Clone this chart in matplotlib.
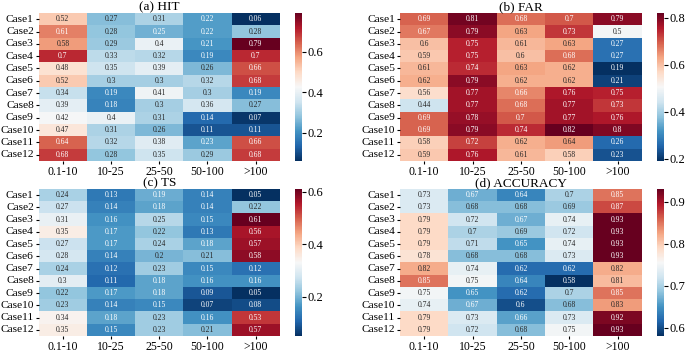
import numpy as np
import matplotlib
matplotlib.use('Agg')
import matplotlib.pyplot as plt
import seaborn as sns

plt.rcParams['font.family'] = ['Liberation Serif', 'DejaVu Serif']

cases = ['Case' + str(i) for i in range(1, 13)]
bins = ['0.1-10', '10-25', '25-50', '50-100', '>100']

hit = [[0.52, 0.27, 0.31, 0.22, 0.06],
       [0.61, 0.28, 0.25, 0.22, 0.28],
       [0.58, 0.29, 0.4, 0.21, 0.79],
       [0.7, 0.33, 0.32, 0.19, 0.7],
       [0.48, 0.35, 0.39, 0.26, 0.66],
       [0.52, 0.3, 0.3, 0.32, 0.68],
       [0.34, 0.19, 0.41, 0.3, 0.19],
       [0.39, 0.18, 0.3, 0.36, 0.27],
       [0.42, 0.4, 0.31, 0.14, 0.07],
       [0.47, 0.31, 0.26, 0.11, 0.11],
       [0.64, 0.32, 0.38, 0.23, 0.66],
       [0.68, 0.28, 0.35, 0.29, 0.68]]

far = [[0.69, 0.81, 0.68, 0.7, 0.79],
       [0.67, 0.79, 0.63, 0.73, 0.5],
       [0.6, 0.75, 0.61, 0.63, 0.27],
       [0.59, 0.75, 0.6, 0.68, 0.27],
       [0.61, 0.74, 0.63, 0.62, 0.19],
       [0.62, 0.79, 0.62, 0.62, 0.21],
       [0.56, 0.77, 0.66, 0.76, 0.75],
       [0.44, 0.77, 0.68, 0.77, 0.73],
       [0.69, 0.78, 0.7, 0.77, 0.76],
       [0.69, 0.79, 0.74, 0.82, 0.8],
       [0.58, 0.72, 0.62, 0.64, 0.26],
       [0.59, 0.76, 0.61, 0.58, 0.23]]

ts = [[0.24, 0.13, 0.19, 0.14, 0.05],
      [0.27, 0.14, 0.18, 0.14, 0.22],
      [0.31, 0.16, 0.25, 0.15, 0.61],
      [0.35, 0.17, 0.22, 0.13, 0.56],
      [0.27, 0.17, 0.24, 0.18, 0.57],
      [0.28, 0.14, 0.2, 0.21, 0.58],
      [0.24, 0.12, 0.23, 0.15, 0.12],
      [0.3, 0.11, 0.18, 0.16, 0.16],
      [0.22, 0.17, 0.18, 0.09, 0.05],
      [0.23, 0.14, 0.15, 0.07, 0.08],
      [0.34, 0.18, 0.23, 0.16, 0.53],
      [0.35, 0.15, 0.23, 0.21, 0.57]]

acc = [[0.73, 0.67, 0.64, 0.7, 0.85],
       [0.73, 0.68, 0.68, 0.69, 0.87],
       [0.79, 0.72, 0.67, 0.74, 0.93],
       [0.79, 0.7, 0.69, 0.72, 0.93],
       [0.79, 0.71, 0.65, 0.74, 0.93],
       [0.78, 0.68, 0.68, 0.73, 0.93],
       [0.82, 0.74, 0.62, 0.62, 0.82],
       [0.85, 0.75, 0.64, 0.58, 0.81],
       [0.75, 0.65, 0.62, 0.7, 0.85],
       [0.74, 0.67, 0.6, 0.68, 0.83],
       [0.79, 0.73, 0.66, 0.73, 0.92],
       [0.79, 0.72, 0.68, 0.75, 0.93]]

titles = ['(a) HIT', '(b) FAR', '(c) TS', '(d) ACCURACY']
data = [hit, far, ts, acc]

fig = plt.figure(figsize=(6.85, 3.52), dpi=100)
# heatmap and colorbar boxes in figure fraction
boxes = [[0.0565, 0.543, 0.352, 0.420],
         [0.584, 0.543, 0.353, 0.420],
         [0.0565, 0.0455, 0.352, 0.4176],
         [0.584, 0.0455, 0.353, 0.4176]]
cbx = [0.4307, 0.959, 0.4307, 0.959]

for i in range(4):
    ax = fig.add_axes(boxes[i])
    cax = fig.add_axes([cbx[i], boxes[i][1], 0.0102, boxes[i][3]])
    sns.heatmap(np.array(data[i]), ax=ax, cbar_ax=cax, cmap='RdBu_r', annot=True, fmt='g',
                annot_kws={'fontsize': 5.5}, xticklabels=bins, yticklabels=cases)
    ax.set_title(titles[i], fontsize=9.5, pad=2)
    ax.tick_params(axis='x', labelsize=8.5, length=2, pad=1.5)
    ax.tick_params(axis='y', labelsize=8.2, length=2, pad=1.5)
    ax.set_yticklabels(cases, rotation=0)
    cax.tick_params(labelsize=9, length=3, pad=1)

plt.savefig('out.png', dpi=100)
